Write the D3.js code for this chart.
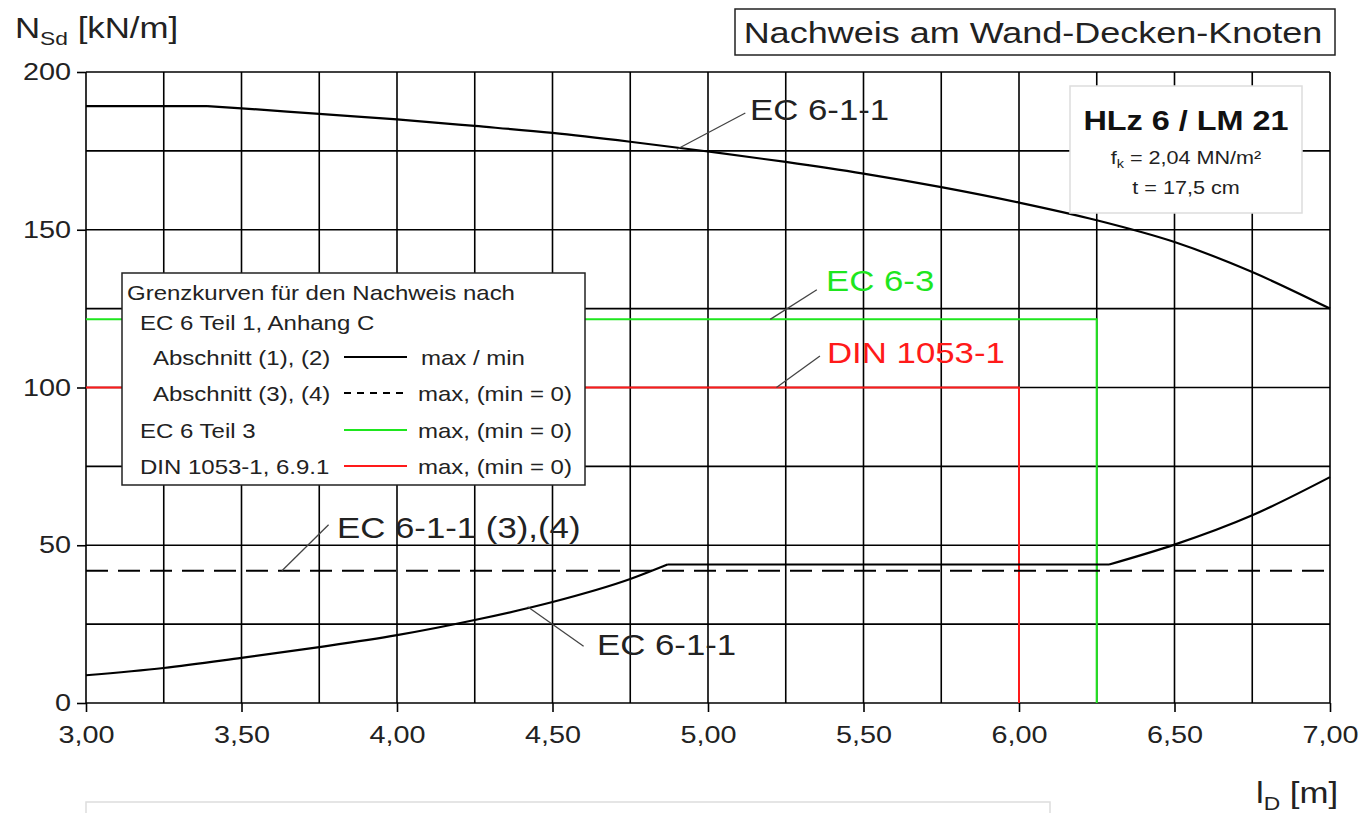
<!DOCTYPE html>
<html>
<head>
<meta charset="utf-8">
<script src="https://cdn.jsdelivr.net/npm/d3@7"></script>
<style>
  body { margin: 0; background: #fff; }
  text { font-family: "Liberation Sans", Arial, sans-serif; }
</style>
</head>
<body>
<div id="chart"></div>
<script>
// data
var x_ticks = [3.0, 3.5, 4.0, 4.5, 5.0, 5.5, 6.0, 6.5, 7.0];
var x_tick_labels = ['3,00', '3,50', '4,00', '4,50', '5,00', '5,50', '6,00', '6,50', '7,00'];
var y_ticks = [0, 50, 100, 150, 200];
var x_grid = [3.0, 3.25, 3.5, 3.75, 4.0, 4.25, 4.5, 4.75, 5.0, 5.25, 5.5, 5.75, 6.0, 6.25, 6.5, 6.75, 7.0];
var y_grid = [0, 25, 50, 75, 100, 125, 150, 175, 200];

// EC 6-1-1 max (upper curve)
var max_x = [3.0, 3.25, 3.39, 3.5, 3.75, 4.0, 4.25, 4.5, 4.75, 5.0, 5.25, 5.5, 5.75, 6.0, 6.25, 6.5, 6.75, 7.0];
var max_y = [189.2, 189.2, 189.2, 188.5, 186.7, 185.0, 182.9, 180.7, 177.9, 174.8, 171.5, 167.8, 163.5, 158.6, 153.0, 146.1, 136.6, 125.0];
var max_breaks = [2]; // corners in the curve (index)
// EC 6-1-1 min (lower curve)
var min_x = [3.0, 3.25, 3.5, 3.75, 4.0, 4.25, 4.5, 4.75, 4.87, 5.5, 6.29, 6.5, 6.75, 7.0];
var min_y = [8.8, 11.1, 14.3, 17.7, 21.5, 26.3, 32.0, 39.3, 43.9, 43.9, 43.9, 50.2, 59.5, 71.6];
var min_breaks = [8, 10];
// EC 6-1-1 (3),(4) dashed max
var dash_x = [3.0, 7.0];
var dash_y = [41.9, 41.9];
// EC 6-3
var ec63_x = [3.0, 6.25, 6.25];
var ec63_y = [121.6, 121.6, 0];
// DIN 1053-1
var din_x = [3.0, 6.0, 6.0];
var din_y = [100, 100, 0];

var width = 1361, height = 813;
var m_left = 86, m_right = 1330, m_top = 72, m_bottom = 703;
var stretch = 1.2; // text in the picture is wider than plain Arial

var svg = d3.select('#chart').append('svg')
  .attr('width', width)
  .attr('height', height);

var x_scale = d3.scaleLinear().domain([3, 7]).range([m_left, m_right]);
var y_scale = d3.scaleLinear().domain([0, 200]).range([m_bottom, m_top]);

function pts(xs, ys) {
  return xs.map(function(d, i) { return [d, ys[i]]; });
}

// grid
svg.append('g').selectAll('line').data(x_grid).enter().append('line')
  .attr('x1', function(d) { return x_scale(d); })
  .attr('x2', function(d) { return x_scale(d); })
  .attr('y1', y_scale(0)).attr('y2', y_scale(200))
  .attr('stroke', '#000').attr('stroke-width', 1.6);
svg.append('g').selectAll('line').data(y_grid).enter().append('line')
  .attr('y1', function(d) { return y_scale(d); })
  .attr('y2', function(d) { return y_scale(d); })
  .attr('x1', x_scale(3)).attr('x2', x_scale(7))
  .attr('stroke', '#000').attr('stroke-width', 1.6);

// axes
var x_axis = d3.axisBottom(x_scale).tickValues(x_ticks)
  .tickFormat(function(d, i) { return x_tick_labels[i]; })
  .tickSize(9).tickPadding(14);
var gx = svg.append('g').attr('transform', 'translate(0,' + m_bottom + ')').call(x_axis);
var y_axis = d3.axisLeft(y_scale).tickValues(y_ticks).tickSize(9).tickPadding(6);
var gy = svg.append('g').attr('transform', 'translate(' + m_left + ',0)').call(y_axis);
[gx, gy].forEach(function(g) {
  g.select('.domain').remove();
  g.selectAll('line').attr('stroke', '#000').attr('stroke-width', 1.6);
  g.selectAll('text').attr('font-size', 24).attr('fill', '#222')
    .style('font-family', '"Liberation Sans", Arial, sans-serif');
});

var line = d3.line()
  .x(function(d) { return x_scale(d[0]); })
  .y(function(d) { return y_scale(d[1]); });

// limit lines
svg.append('path').datum(pts(ec63_x, ec63_y)).attr('d', line)
  .attr('fill', 'none').attr('stroke', '#1ee61e').attr('stroke-width', 2);
svg.append('path').datum(pts(din_x, din_y)).attr('d', line)
  .attr('fill', 'none').attr('stroke', '#ff1a1a').attr('stroke-width', 2);
svg.append('path').datum(pts(dash_x, dash_y)).attr('d', line)
  .attr('fill', 'none').attr('stroke', '#000').attr('stroke-width', 2)
  .attr('stroke-dasharray', '22,10');

// smooth curves, split at the corners so these stay sharp
var curve = d3.line().curve(d3.curveMonotoneX)
  .x(function(d) { return x_scale(d[0]); })
  .y(function(d) { return y_scale(d[1]); });
function drawCurve(xs, ys, breaks) {
  var data = pts(xs, ys);
  var cuts = [0].concat(breaks).concat([data.length - 1]);
  var d = '';
  for (var i = 0; i < cuts.length - 1; i++) {
    d += curve(data.slice(cuts[i], cuts[i + 1] + 1));
  }
  svg.append('path').attr('d', d)
    .attr('fill', 'none').attr('stroke', '#000').attr('stroke-width', 2.2)
    .attr('stroke-linejoin', 'round');
}
drawCurve(max_x, max_y, max_breaks);
drawCurve(min_x, min_y, min_breaks);

// leader lines and labels
var notes = [
  { t: 'EC 6-1-1', c: '#222', x0: 4.9, y0: 175.5, x1: 5.12, y1: 187, tx: 750, ty: 120 },
  { t: 'EC 6-3', c: '#1ee61e', x0: 5.2, y0: 121.6, x1: 5.35, y1: 131, tx: 826, ty: 291 },
  { t: 'DIN 1053-1', c: '#ff1a1a', x0: 5.22, y0: 100, x1: 5.36, y1: 110, tx: 827, ty: 363 },
  { t: 'EC 6-1-1 (3),(4)', c: '#222', x0: 3.63, y0: 41.9, x1: 3.78, y1: 56.5, tx: 337, ty: 538 },
  { t: 'EC 6-1-1', c: '#222', x0: 4.42, y0: 30.5, x1: 4.6, y1: 18, tx: 597, ty: 655 }
];
var g_notes = svg.append('g');
g_notes.selectAll('line').data(notes).enter().append('line')
  .attr('x1', function(d) { return x_scale(d.x0); })
  .attr('y1', function(d) { return y_scale(d.y0); })
  .attr('x2', function(d) { return x_scale(d.x1); })
  .attr('y2', function(d) { return y_scale(d.y1); })
  .attr('stroke', '#444').attr('stroke-width', 1.3);

// legend box
var lg = svg.append('g');
lg.append('rect').attr('x', 122).attr('y', 273).attr('width', 463).attr('height', 212)
  .attr('fill', '#fff').attr('stroke', '#222').attr('stroke-width', 1.5);
var legend_rows = [
  { t: 'Grenzkurven für den Nachweis nach', x: 127, y: 300 },
  { t: 'EC 6 Teil 1, Anhang C', x: 140, y: 330 },
  { t: 'Abschnitt (1), (2)', x: 153, y: 365, s: '#000', dash: null, r: 'max / min', rx: 421 },
  { t: 'Abschnitt (3), (4)', x: 153, y: 401, s: '#000', dash: '7,6', r: 'max, (min = 0)', rx: 418 },
  { t: 'EC 6 Teil 3', x: 140, y: 438, s: '#1ee61e', dash: null, r: 'max, (min = 0)', rx: 418 },
  { t: 'DIN 1053-1, 6.9.1', x: 140, y: 474, s: '#ff1a1a', dash: null, r: 'max, (min = 0)', rx: 418 }
];
legend_rows.forEach(function(d) {
  lg.append('text').attr('x', d.x).attr('y', d.y).attr('font-size', 20).attr('fill', '#222').text(d.t);
  if (d.s) {
    lg.append('line').attr('x1', 344).attr('x2', 407).attr('y1', d.y - 8).attr('y2', d.y - 8)
      .attr('stroke', d.s).attr('stroke-width', 2).attr('stroke-dasharray', d.dash);
    lg.append('text').attr('x', d.rx).attr('y', d.y).attr('font-size', 20).attr('fill', '#222').text(d.r);
  }
});

g_notes.selectAll('text').data(notes).enter().append('text')
  .attr('x', function(d) { return d.tx; })
  .attr('y', function(d) { return d.ty; })
  .attr('font-size', 29)
  .attr('fill', function(d) { return d.c; })
  .text(function(d) { return d.t; });

// info box
var ib = svg.append('g');
ib.append('rect').attr('x', 1070).attr('y', 86).attr('width', 232).attr('height', 127)
  .attr('fill', '#fff').attr('stroke', '#ddd').attr('stroke-width', 1.5);
ib.append('text').attr('x', 1186).attr('y', 130).attr('text-anchor', 'middle')
  .attr('font-size', 27).attr('font-weight', 'bold').attr('fill', '#111').text('HLz 6 / LM 21');
var fk = ib.append('text').attr('x', 1186).attr('y', 164).attr('text-anchor', 'middle')
  .attr('font-size', 18).attr('fill', '#222');
fk.append('tspan').text('f');
fk.append('tspan').attr('font-size', 12).attr('dy', 4).text('k');
fk.append('tspan').attr('dy', -4).text(' = 2,04 MN/m²');
ib.append('text').attr('x', 1186).attr('y', 194).attr('text-anchor', 'middle')
  .attr('font-size', 18).attr('fill', '#222').text('t = 17,5 cm');

// title box
svg.append('rect').attr('x', 735).attr('y', 9).attr('width', 600).attr('height', 46)
  .attr('fill', '#fff').attr('stroke', '#222').attr('stroke-width', 1.5);
svg.append('text').attr('x', 1033).attr('y', 43).attr('text-anchor', 'middle')
  .attr('font-size', 30).attr('fill', '#222').text('Nachweis am Wand-Decken-Knoten');

// axis titles
var yt = svg.append('text').attr('x', 15).attr('y', 38).attr('font-size', 29).attr('fill', '#222');
yt.append('tspan').text('N');
yt.append('tspan').attr('font-size', 19).attr('dy', 7).text('Sd');
yt.append('tspan').attr('dy', -7).text(' [kN/m]');
var xt = svg.append('text').attr('x', 1256).attr('y', 803).attr('font-size', 29).attr('fill', '#222');
xt.append('tspan').text('l');
xt.append('tspan').attr('font-size', 19).attr('dy', 7).text('D');
xt.append('tspan').attr('dy', -7).text(' [m]');

// light frame at the bottom edge
svg.append('path').attr('d', 'M86,813 V802 H1050 V813')
  .attr('fill', 'none').attr('stroke', '#ddd').attr('stroke-width', 1.5);

// widen all text around its anchor point
svg.selectAll('text').each(function() {
  var t = d3.select(this);
  var x = +t.attr('x') || 0;
  t.attr('transform', 'translate(' + (-(stretch - 1) * x) + ',0) scale(' + stretch + ',1)');
});
</script>
</body>
</html>
